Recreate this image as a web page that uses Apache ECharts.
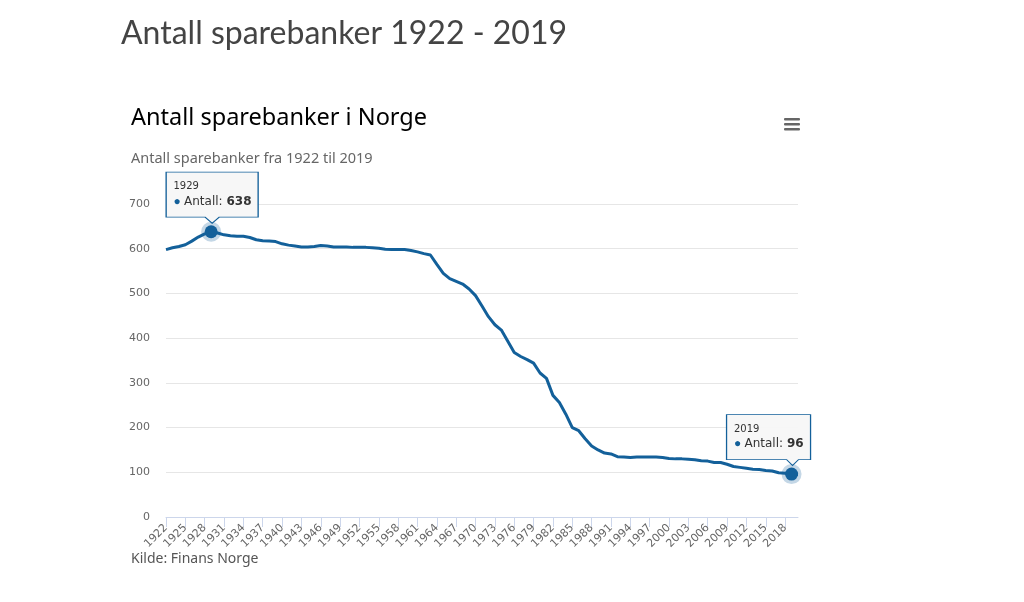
<!DOCTYPE html>
<html>
<head>
<meta charset="utf-8">
<script src="https://cdn.jsdelivr.net/npm/echarts@6/dist/echarts.min.js"></script>
<style>html,body{margin:0;padding:0;background:#fff}#c{width:1024px;height:602px}</style>
</head>
<body>
<div id="c"></div>
<script>
const years = [];
for (let y = 1922; y <= 2020; y++) years.push(String(y));
const antall = [
598,602,605,609,617,626,633,638,635,631,
629,628,628,625,620,618,617,616,611,608,
606,604,604,605,607,606,604,604,604,603,
603,603,602,601,599,598,598,598,596,593,
589,586,565,545,533,527,521,510,495,472,
448,430,418,393,368,359,352,344,322,310,
272,256,230,200,193,175,159,150,143,141,
135,134,133,134,134,134,134,133,131,130,
130,129,128,126,125,122,122,118,113,111,
109,107,106,104,103,99,98,96,95
];
const yTicks = [0,100,200,300,400,500,600,700];
const highlighted = [
  {year:'1929', value:638, box:'left'},
  {year:'2019', value:96, box:'right'}
];

const lineColor = '#13609a';
const calloutA = 'path://M0,0 H92 V45 H53 L46,51 L39,45 H0 Z';
const calloutB = 'path://M0,0 H84 V45 H72 L66,51 L60,45 H0 Z';

const markData = [];
highlighted.forEach(h => {
  const isA = h.box === 'left';
  markData.push({
    coord: [h.year, h.value],
    symbol: isA ? calloutA : calloutB,
    symbolSize: isA ? [92,51] : [84,51],
    symbolOffset: isA ? [1,-34] : [-23,-34],
    itemStyle: {color: 'rgba(247,247,247,0.95)', borderColor: lineColor, borderWidth: 1},
    label: {
      show: true,
      position: [8, 8],
      formatter: '{yr|' + h.year + '}\n{dot|●} {n|Antall: }{b|' + h.value + '}',
      rich: {
        yr: {fontSize: 10, color: '#333', fontFamily: 'DejaVu Sans', lineHeight: 14},
        dot: {fontSize: 12, color: lineColor, lineHeight: 16},
        n: {fontSize: 12, color: '#333', fontFamily: 'DejaVu Sans', lineHeight: 16},
        b: {fontSize: 12, color: '#333', fontWeight: 'bold', fontFamily: 'DejaVu Sans', lineHeight: 16}
      }
    }
  });
  markData.push({
    coord: [h.year, h.value],
    symbol: 'circle',
    symbolSize: 13,
    itemStyle: {color: lineColor, borderColor: 'rgba(19,96,154,0.25)', borderWidth: 7},
    label: {show: false}
  });
});

const chart = echarts.init(document.getElementById('c'));
chart.setOption({
  animation: false,
  title: [
    {text: 'Antall sparebanker 1922 - 2019', left: 121, top: 18, padding: 0,
     textStyle: {fontFamily: 'Lato', fontSize: 32, fontWeight: 'normal', color: '#444'}},
    {text: 'Antall sparebanker i Norge', left: 131, top: 106, padding: 0,
     textStyle: {fontFamily: 'Noto Sans', fontSize: 23.5, fontWeight: 'normal', color: '#000'}},
    {text: 'Antall sparebanker fra 1922 til 2019', left: 131, top: 151, padding: 0,
     textStyle: {fontFamily: 'Noto Sans', fontSize: 14.5, fontWeight: 'normal', color: '#666'}},
    {text: 'Kilde: Finans Norge', left: 131, top: 552, padding: 0,
     textStyle: {fontFamily: 'Noto Sans', fontSize: 14, fontWeight: 'normal', color: '#555'}}
  ],
  graphic: [
    {type: 'group', left: 784, top: 118, children: [
      {type: 'rect', shape: {x: 0, y: 0, width: 16, height: 2.5, r: 1}, style: {fill: '#666'}},
      {type: 'rect', shape: {x: 0, y: 5, width: 16, height: 2.5, r: 1}, style: {fill: '#666'}},
      {type: 'rect', shape: {x: 0, y: 10, width: 16, height: 2.5, r: 1}, style: {fill: '#666'}}
    ]}
  ],
  grid: {left: 166, right: 226, top: 204, bottom: 85, containLabel: false},
  xAxis: {
    type: 'category',
    data: years,
    boundaryGap: false,
    axisLine: {lineStyle: {color: '#ccd6eb'}},
    axisTick: {show: true, interval: 2, length: 10, lineStyle: {color: '#ccd6eb'}},
    axisLabel: {interval: 2, rotate: 45, fontSize: 11, color: '#666', fontFamily: 'DejaVu Sans', margin: 9},
    splitLine: {show: false}
  },
  yAxis: {
    type: 'value',
    min: yTicks[0], max: yTicks[yTicks.length-1], interval: 100,
    axisLine: {show: false},
    axisTick: {show: false},
    axisLabel: {fontSize: 11, color: '#666', fontFamily: 'DejaVu Sans', margin: 16},
    splitLine: {lineStyle: {color: '#e6e6e6'}}
  },
  series: [{
    type: 'line',
    data: antall,
    showSymbol: false,
    lineStyle: {color: lineColor, width: 3},
    itemStyle: {color: lineColor},
    markPoint: {data: markData, animation: false}
  }]
});
</script>
</body>
</html>
